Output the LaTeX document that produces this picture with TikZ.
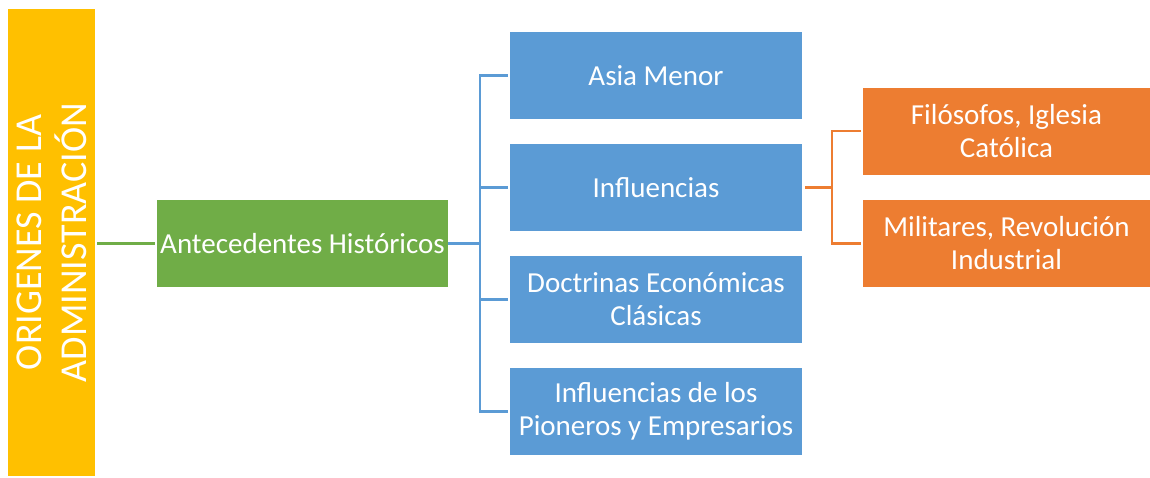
\documentclass[tikz,border=0pt]{standalone}
\usepackage{fontspec}
\setmainfont{Carlito}
\usepackage{xcolor}
\definecolor{ofyellow}{HTML}{FFC000}
\definecolor{ofgreen}{HTML}{70AD47}
\definecolor{ofblue}{HTML}{5B9BD5}
\definecolor{oforange}{HTML}{ED7D31}
\usetikzlibrary{positioning,calc}

\begin{document}
\begin{tikzpicture}[x=1pt,y=-1pt,
    box/.style={minimum height=87pt,inner sep=1pt,align=center,text=white,
      font=\fontsize{29}{33}\selectfont},
    link/.style={line width=2.2pt}]
    \useasboundingbox (0,0) rectangle (1150,477);
    % main title bar
    \node[fill=ofyellow,minimum width=87pt,minimum height=467pt] (bar) at (51.5,242.5) {};
    \node[rotate=90,text=white,align=center,font=\fontsize{38}{45}\selectfont] (title) at (bar.center)
      {ORIGENES DE LA\\ADMINISTRACIÓN};
    % level 1
    \node[box,fill=ofgreen,minimum width=291pt] (ant) at (302.5,243.5) {Antecedentes Históricos};
    % level 2
    \node[box,fill=ofblue,minimum width=292pt] (asia) at (656,75.5) {Asia Menor};
    \node[box,fill=ofblue,minimum width=292pt] (infl) at (656,187.5) {Influencias};
    \node[box,fill=ofblue,minimum width=292pt] (doct) at (656,299.5) {Doctrinas Económicas\\Clásicas};
    \node[box,fill=ofblue,minimum width=292pt] (pion) at (656,411.5) {Influencias de los\\Pioneros y Empresarios};
    % level 3
    \node[box,fill=oforange,minimum width=287pt] (filo) at (1006.5,131) {Filósofos, Iglesia\\Católica};
    \node[box,fill=oforange,minimum width=287pt] (mili) at (1006.5,243.5) {Militares, Revolución\\Industrial};
    % connectors
    \draw[link,ofgreen,shorten <=2pt,shorten >=2pt] (bar.east |- ant.west) -- (ant.west);
    \coordinate (bj) at (480,243.5);
    \draw[link,ofblue] (ant.east) -- (bj);
    \foreach \n in {asia,infl,doct,pion}
      \draw[link,ofblue,shorten >=2pt] (bj) |- (\n.west);
    \coordinate (oj) at (832,187.5);
    \draw[link,oforange,shorten <=3pt] (infl.east) -- (oj);
    \foreach \n in {filo,mili}
      \draw[link,oforange,shorten >=2pt] (oj) |- (\n.west);
\end{tikzpicture}
\end{document}
